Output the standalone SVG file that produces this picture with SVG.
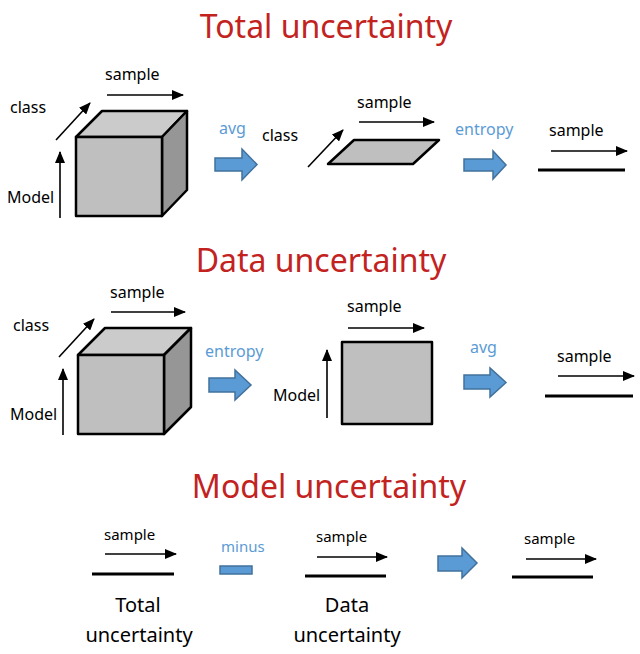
<svg xmlns="http://www.w3.org/2000/svg" width="640" height="654" viewBox="0 0 640 654">
<defs>
<marker id="ah" markerUnits="userSpaceOnUse" markerWidth="12" markerHeight="10" refX="11" refY="5" orient="auto">
<path d="M0,0 L12,5 L0,10 Z" fill="#000"/>
</marker>
<style>
text{font-family:"Noto Sans","Open Sans","Liberation Sans",sans-serif;}
.title{font-size:32px;fill:#C3231E;text-anchor:middle;}
.lbl{font-size:16px;fill:#000;}
.blue{font-size:16px;fill:#5B9BD5;}
.big{font-size:20px;fill:#000;text-anchor:middle;}
.ax{stroke:#000;stroke-width:1.6;fill:none;marker-end:url(#ah);}
.bar{stroke:#000;stroke-width:3;}
.barrow{fill:#5B9BD5;stroke:#41719C;stroke-width:1.5;}
.front{fill:#BFBFBF;stroke:#000;stroke-width:2.5;stroke-linejoin:round;}
.top{fill:#CBCBCB;stroke:#000;stroke-width:2.5;stroke-linejoin:round;}
.side{fill:#969696;stroke:#000;stroke-width:2.5;stroke-linejoin:round;}
</style>
</defs>

<text class="title" x="326" y="38">Total uncertainty</text>
<text class="title" x="321" y="272">Data uncertainty</text>
<text class="title" x="329" y="498">Model uncertainty</text>

<g id="cube1">
<polygon class="top" points="76,137 102,111 187,111 162,137"/>
<polygon class="side" points="162,137 187,111 187,190 162,216"/>
<rect class="front" x="76" y="137" width="86" height="79"/>
<text class="lbl" x="105" y="80">sample</text>
<text class="lbl" x="10" y="113">class</text>
<text class="lbl" x="7" y="203">Model</text>
</g>

<g id="avg1">
<text class="blue" x="219" y="134">avg</text>
<path class="barrow" d="M215,158 H242 V149 L257,164.5 L242,180 V171 H215 Z"/>
</g>

<g id="plane1">
<polygon class="front" points="328,164 354,140 439,140 413,164"/>
<text class="lbl" x="262" y="141">class</text>
<text class="lbl" x="357" y="108">sample</text>
</g>

<g id="entropy1">
<text class="blue" x="455" y="135">entropy</text>
<path class="barrow" d="M464,159 H493 V151 L506,165 L493,179 V171 H464 Z"/>
</g>

<g id="line1">
<text class="lbl" x="549" y="136">sample</text>
<line class="bar" x1="538" y1="170" x2="625" y2="170"/>
</g>

<g id="cube2">
<polygon class="top" points="78,355 105,328 191,328 164,355"/>
<polygon class="side" points="164,355 191,328 191,407 164,434"/>
<rect class="front" x="78" y="355" width="86" height="79"/>
<text class="lbl" x="110" y="298">sample</text>
<text class="lbl" x="13" y="331">class</text>
<text class="lbl" x="10" y="420">Model</text>
</g>

<g id="entropy2">
<text class="blue" x="205" y="357">entropy</text>
<path class="barrow" d="M209,378 H235 V370 L251,385 L235,400 V392 H209 Z"/>
</g>

<g id="square2">
<rect class="front" x="342" y="342" width="90" height="82"/>
<text class="lbl" x="347" y="312">sample</text>
<text class="lbl" x="273" y="401">Model</text>
</g>

<g id="avg2">
<text class="blue" x="470" y="353">avg</text>
<path class="barrow" d="M464,375 H490 V368 L506,382.5 L490,397 V389 H464 Z"/>
</g>

<g id="line2">
<text class="lbl" x="557" y="362">sample</text>
<line class="bar" x1="545" y1="396" x2="633" y2="396"/>
</g>

<g id="total3">
<text class="lbl" x="104" y="540" style="font-size:15px">sample</text>
<line class="bar" x1="92" y1="574" x2="174" y2="574"/>
<text class="big" x="138" y="612">Total</text>
<text class="big" x="139" y="642">uncertainty</text>
</g>

<g id="minus3">
<text class="blue" x="221" y="552" style="font-size:15px">minus</text>
<rect class="barrow" x="220" y="566" width="32" height="8"/>
</g>

<g id="data3">
<text class="lbl" x="316" y="542" style="font-size:15px">sample</text>
<line class="bar" x1="305" y1="576" x2="386" y2="576"/>
<text class="big" x="347" y="612">Data</text>
<text class="big" x="347" y="642">uncertainty</text>
</g>

<g id="arrow3">
<path class="barrow" d="M438,556 H462 V548 L477,563 L462,578 V571 H438 Z"/>
</g>

<g id="model3">
<text class="lbl" x="524" y="544" style="font-size:15px">sample</text>
<line class="bar" x1="512" y1="577" x2="593" y2="577"/>
</g>

<g id="connectors">
<line class="ax" x1="107" y1="95" x2="183" y2="95"/>
<line class="ax" x1="56" y1="140" x2="90" y2="103"/>
<line class="ax" x1="60" y1="218" x2="60" y2="152"/>
<line class="ax" x1="359" y1="122" x2="434" y2="122"/>
<line class="ax" x1="308" y1="167" x2="343" y2="130"/>
<line class="ax" x1="551" y1="151" x2="627" y2="151"/>
<line class="ax" x1="111" y1="312" x2="185" y2="312"/>
<line class="ax" x1="59" y1="357" x2="94" y2="319"/>
<line class="ax" x1="63" y1="435" x2="63" y2="369"/>
<line class="ax" x1="348" y1="328" x2="424" y2="328"/>
<line class="ax" x1="327" y1="418" x2="327" y2="350"/>
<line class="ax" x1="558" y1="376" x2="634" y2="376"/>
<line class="ax" x1="105" y1="554" x2="176" y2="554"/>
<line class="ax" x1="317" y1="557" x2="387" y2="557"/>
<line class="ax" x1="526" y1="559" x2="596" y2="559"/>
</g>
</svg>
